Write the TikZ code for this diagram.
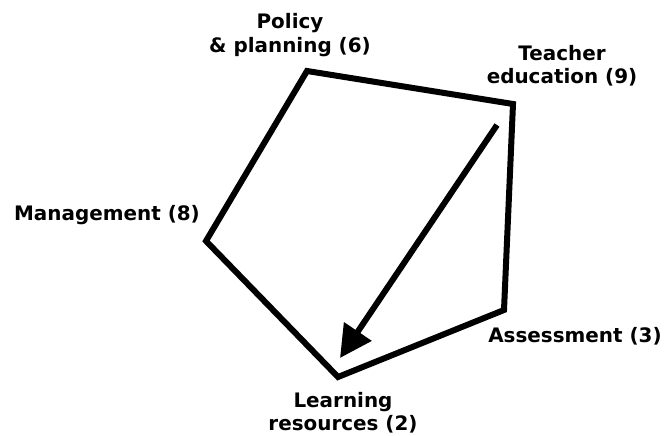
\documentclass[tikz,border=0pt]{standalone}
\usepackage{fontspec}
\setmainfont{DejaVu Sans}
\usetikzlibrary{arrows.meta}

\begin{document}
\begin{tikzpicture}[x=1bp,y=-1bp,
    lbl/.style={font=\bfseries\fontsize{20}{23.5}\selectfont,align=center,inner sep=0pt},
    edge/.style={draw,line width=6bp,line join=miter}]
  \useasboundingbox (0,0) rectangle (670,436);
  \begin{scope}
    \coordinate (policy) at (307,71);
    \coordinate (teacher) at (513,104);
    \coordinate (assess) at (504,310);
    \coordinate (learn) at (338,377);
    \coordinate (manage) at (206,241);

    \path[edge] (policy) -- (teacher) -- (assess) -- (learn) -- (manage) -- cycle;

    \coordinate (from) at (497,125);
    \coordinate (to) at (340,358);
    \path[draw,line width=6bp,-{Triangle[length=32bp,width=32bp]}] (from) -- (to);

    \node[lbl] (policylbl) at (290,35) {Policy\\\& planning (6)};
    \node[lbl] (teacherlbl) at (562,66) {Teacher\\education (9)};
    \node[lbl] (managelbl) at (107,215) {Management (8)};
    \node[lbl] (assesslbl) at (575,336) {Assessment (3)};
    \node[lbl] (learnlbl) at (343,413) {Learning\\resources (2)};
  \end{scope}
\end{tikzpicture}
\end{document}
